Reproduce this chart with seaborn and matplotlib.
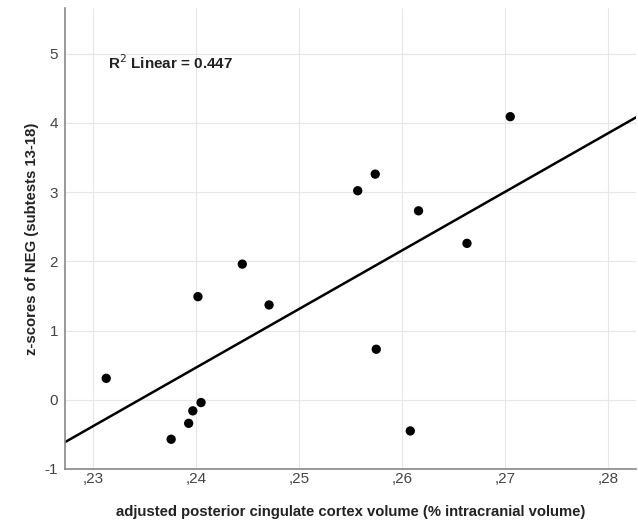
import numpy as np
import pandas as pd
import seaborn as sns
import matplotlib.pyplot as plt
from matplotlib.ticker import FuncFormatter

# values
pcc_volume = [0.2313, 0.2376, 0.2393, 0.2397, 0.2405, 0.2402, 0.2445, 0.2471,
              0.2557, 0.2574, 0.2575, 0.2608, 0.2616, 0.2663, 0.2705]
neg_z = [0.31, -0.57, -0.34, -0.16, -0.04, 1.49, 1.96, 1.37,
         3.02, 3.26, 0.73, -0.45, 2.73, 2.26, 4.09]
x_ticks = [0.23, 0.24, 0.25, 0.26, 0.27, 0.28]
y_ticks = [-1, 0, 1, 2, 3, 4, 5]

df = pd.DataFrame({'pcc': pcc_volume, 'neg': neg_z})

sns.set_style('whitegrid', {'grid.color': '#e6e6e6', 'axes.edgecolor': '#888888'})
plt.rcParams['font.family'] = ['Liberation Sans', 'DejaVu Sans']
plt.rcParams['axes.unicode_minus'] = False

fig = plt.figure(figsize=(6.38, 5.24), dpi=100)
ax = fig.add_axes([65 / 638, 55 / 524, 571 / 638, 461 / 524])

ax.set_xlim(0.2273, 0.2827)
ax.set_ylim(-1, 5.66)

sns.regplot(data=df, x='pcc', y='neg', ax=ax, ci=None, truncate=False,
            scatter_kws=dict(s=45, color='black', alpha=1, edgecolor='none', zorder=3),
            line_kws=dict(color='black', lw=1.8))

ax.set_xticks(x_ticks)
ax.set_yticks(y_ticks)
ax.xaxis.set_major_formatter(FuncFormatter(lambda v, p: ',' + f'{v:.2f}'.split('.')[1]))
ax.tick_params(axis='both', length=0, labelsize=11, colors='#444444')
ax.tick_params(axis='x', pad=2)
ax.tick_params(axis='y', pad=5)

sns.despine(ax=ax)
for s in ['left', 'bottom']:
    ax.spines[s].set_color('#888888')
    ax.spines[s].set_linewidth(1.2)

ax.set_xlabel('adjusted posterior cingulate cortex volume (% intracranial volume)',
              fontsize=10.7, fontweight='bold', labelpad=14, color='#222222')
ax.set_ylabel('z-scores of NEG (subtests 13-18)', fontsize=10.7, fontweight='bold',
              labelpad=4, color='#222222')

ax.text(0.075, 0.868, 'R$^{2}$ Linear = 0.447', transform=ax.transAxes,
        fontsize=11, fontweight='bold', color='#222222')

fig.savefig('out.png', dpi=100)
